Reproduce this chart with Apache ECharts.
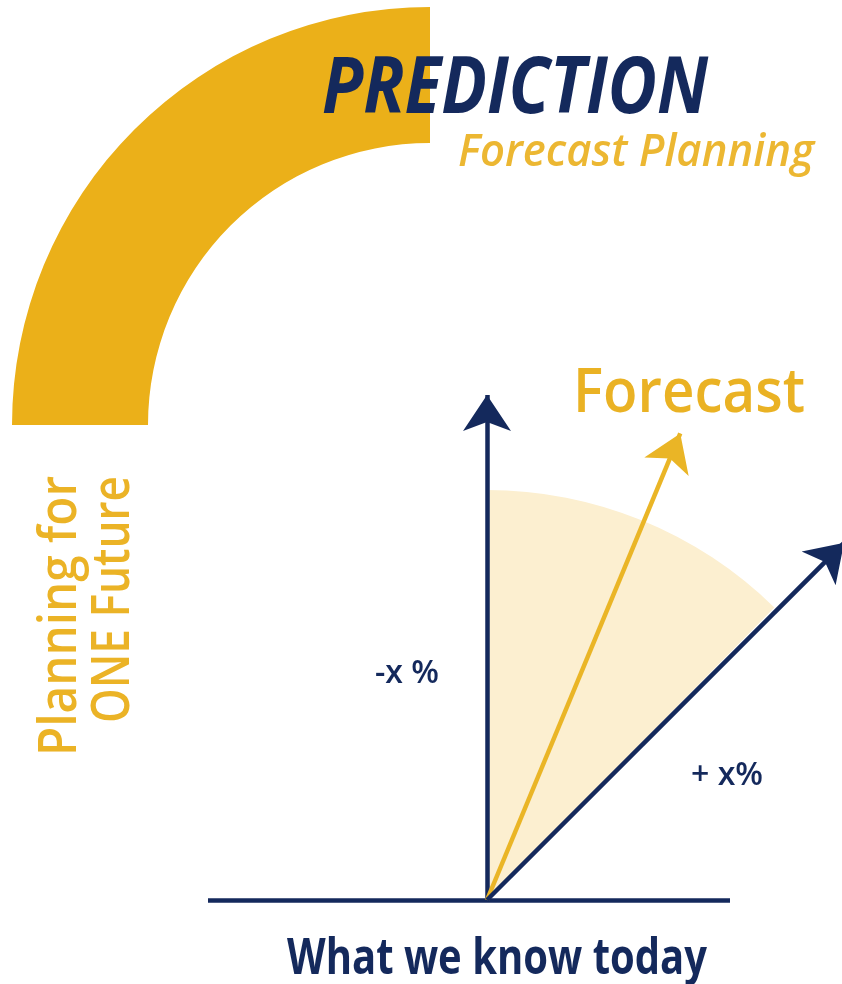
<!DOCTYPE html>
<html>
<head>
<meta charset="utf-8">
<title>Prediction</title>
<script src="https://cdn.jsdelivr.net/npm/echarts@6/dist/echarts.min.js"></script>
<style>
    html, body { margin: 0; padding: 0; background: #fff; }
    #chart { width: 842px; height: 984px; }
</style>
</head>
<body>
<div id="chart"></div>
<script>
// diagram values, arrows start at (0, 0), one unit is one pixel
const arrowAngles = [90, 67.5, 45];       // degrees from the base line
const arrowLengths = [505, 505, 505];     // to the tip of the head
const baseLine = [-279, 243];             // x extent of the base line
const coneAngles = [45.5, 90];            // shaded range of outcomes
const coneRadius = 410;
const arcCenter = [-57, 475];
const arcAngles = [90, 180];
const arcRadii = [282, 418];

const titleText = 'PREDICTION';
const subtitleText = 'Forecast Planning';
const forecastText = 'Forecast';
const sideLines = ['Planning for', 'ONE Future'];
const lowText = '-x %';
const highText = '+ x%';
const baseText = 'What we know today';

const NAVY = '#14295c';
const GOLD = '#ebb019';
const FONT = '"Open Sans", "Noto Sans", sans-serif';
const HEAD = [22, 36];

const myChart = echarts.init(document.getElementById('chart'));

const rad = d => d * Math.PI / 180;
// the arrow head of a lines series ends on the last point
const arrowData = arrowAngles.map((a, i) => {
    const len = arrowLengths[i];
    return {
        coords: [[0, 0], [len * Math.cos(rad(a)), len * Math.sin(rad(a))]],
        lineStyle: { color: i === 1 ? '#eab526' : NAVY }
    };
});

myChart.setOption({
    animation: false,
    grid: { left: 0, right: 0, top: 0, bottom: 0 },
    xAxis: { type: 'value', min: -487, max: 355, show: false },
    yAxis: { type: 'value', min: -84, max: 900, show: false },
    series: [
        {
            type: 'lines',
            coordinateSystem: 'cartesian2d',
            z: 3,
            silent: true,
            symbol: 'none',
            lineStyle: { color: NAVY, width: 4.5, opacity: 1 },
            data: [{ coords: [[baseLine[0], 0], [baseLine[1], 0]] }]
        },
        {
            type: 'lines',
            coordinateSystem: 'cartesian2d',
            z: 4,
            silent: true,
            symbol: ['none', 'arrow'],
            symbolSize: HEAD,
            lineStyle: { width: 4.5, opacity: 1 },
            data: arrowData
        }
    ]
});

// pies need pixel centres, take them from the grid
const o = myChart.convertToPixel({ gridIndex: 0 }, [0, 0]);
const px = (myChart.convertToPixel({ gridIndex: 0 }, [100, 0])[0] - o[0]) / 100;
const arcC = myChart.convertToPixel({ gridIndex: 0 }, arcCenter);
const clear = { color: 'rgba(0,0,0,0)' };
const pieBase = {
    type: 'pie',
    silent: true,
    clockwise: true,
    label: { show: false },
    labelLine: { show: false },
    emphasis: { disabled: true },
    itemStyle: { borderWidth: 0 }
};

// text placement, baseline measured so y is where the letters sit
const ctx = document.createElement('canvas').getContext('2d');
function textEl(text, font, x, baseY, width, fill, align, rotation) {
    ctx.font = font;
    ctx.textBaseline = 'middle';
    const m = ctx.measureText(text);
    const drop = ctx.measureText('H').actualBoundingBoxDescent;
    const el = {
        type: 'text',
        z: 10,
        silent: true,
        x: x,
        y: baseY,
        scaleX: width / m.width,
        style: { text: text, font: font, fill: fill, align: align, verticalAlign: 'middle' }
    };
    if (rotation) {
        el.rotation = rotation;
        el.x = x - drop;
    } else {
        el.y = baseY - drop;
    }
    return el;
}

myChart.setOption({
    series: [
        {}, {},
        Object.assign({}, pieBase, {
            z: 1,
            center: [arcC[0], arcC[1]],
            radius: [arcRadii[0] * px, arcRadii[1] * px],
            startAngle: arcAngles[1],
            data: [
                { value: arcAngles[1] - arcAngles[0], itemStyle: { color: GOLD } },
                { value: 360 - (arcAngles[1] - arcAngles[0]), itemStyle: clear }
            ]
        }),
        Object.assign({}, pieBase, {
            z: 1,
            center: [o[0], o[1]],
            radius: [0, coneRadius * px],
            startAngle: coneAngles[1],
            data: [
                { value: coneAngles[1] - coneAngles[0], itemStyle: { color: '#fcefd0' } },
                { value: 360 - (coneAngles[1] - coneAngles[0]), itemStyle: clear }
            ]
        })
    ],
    graphic: [
        textEl(titleText, 'italic 700 79px ' + FONT, 322, 114, 386, NAVY, 'left'),
        textEl(subtitleText, 'italic 600 46px ' + FONT, 458, 166, 356, '#ecb732', 'left'),
        textEl(forecastText, '600 62px ' + FONT, 573, 412, 232, '#eab224', 'left'),
        textEl(sideLines[0], '600 52px ' + FONT, 76, 476, 280, '#ebb326', 'right', Math.PI / 2),
        textEl(sideLines[1], '600 52px ' + FONT, 129, 476, 247, '#ebb326', 'right', Math.PI / 2),
        textEl(lowText, '600 32px ' + FONT, 375, 683, 64, NAVY, 'left'),
        textEl(highText, '600 32px ' + FONT, 691, 785, 72, NAVY, 'left'),
        textEl(baseText, '700 50px ' + FONT, 497, 974, 420, NAVY, 'center')
    ]
});
</script>
</body>
</html>
